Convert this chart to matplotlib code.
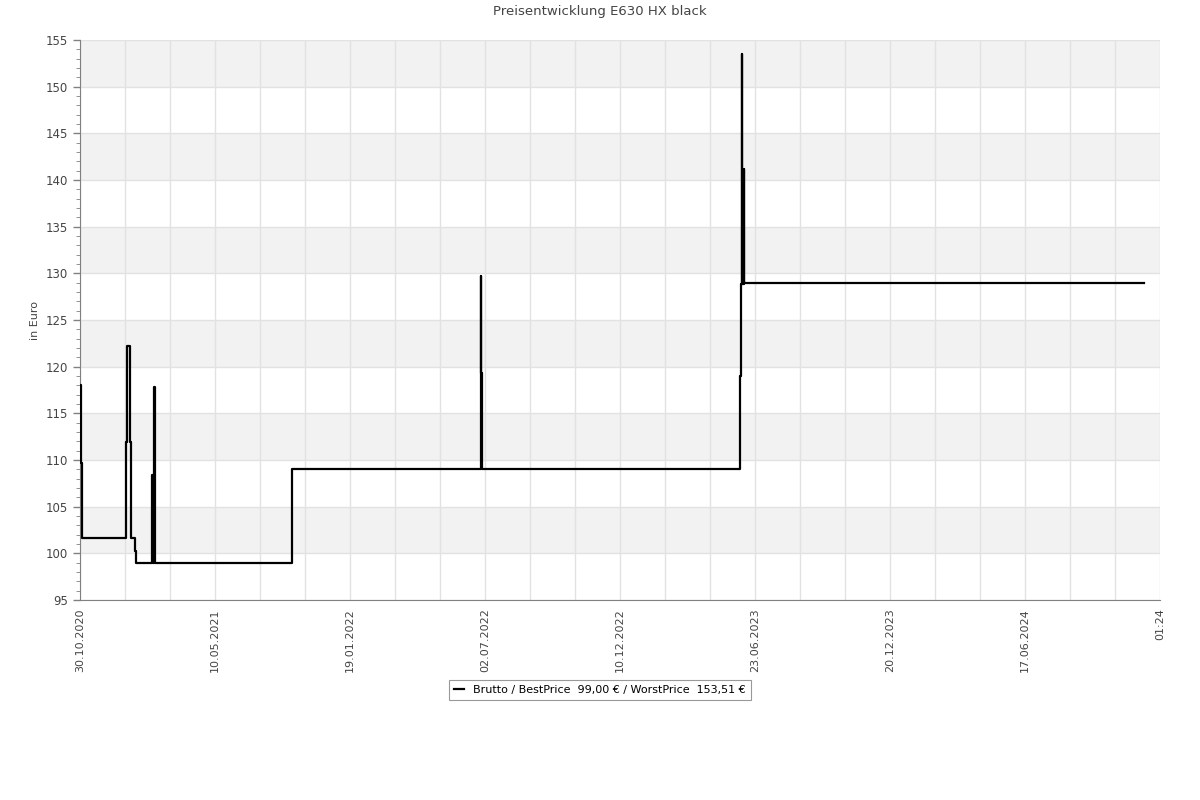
import numpy as np
import matplotlib
matplotlib.use("Agg")
import matplotlib.pyplot as plt
from matplotlib.ticker import MultipleLocator

# x in units of one labelled tick interval (axis labels are not evenly spaced in time)
tick_labels = ["30.10.2020", "10.05.2021", "19.01.2022", "02.07.2022", "10.12.2022",
               "23.06.2023", "20.12.2023", "17.06.2024", "01:24"]

pos = [0.000, 0.007, 0.015, 0.341, 0.346, 0.370, 0.378, 0.405, 0.415,
       0.537, 0.543, 0.547, 0.552, 1.570,
       2.968, 2.973, 2.979,
       4.889, 4.895, 4.900, 4.907, 4.915, 4.922, 7.881]
price = [118.0, 109.7, 101.59, 111.9, 122.2, 111.9, 101.59, 100.3, 99.0,
         108.4, 99.0, 117.8, 99.0, 109.0,
         129.7, 119.3, 109.0,
         119.0, 128.9, 153.51, 128.9, 141.2, 129.0, 129.0]

fig = plt.figure(figsize=(12, 8), dpi=100)
ax = fig.add_axes([80 / 1200, 200 / 800, 1080 / 1200, 560 / 800])

# alternating bands
for lo in range(100, 155, 10):
    ax.axhspan(lo, lo + 5, color="#f2f2f2", zorder=0, lw=0)

line, = ax.step(pos, price, where="post", color="black", lw=1.6, zorder=3)

ax.set_xlim(0, 8)
ax.set_ylim(95, 155)
ax.set_xticks(range(len(tick_labels)))
ax.set_xticklabels(tick_labels, rotation=90, fontsize=8, color="#444444")
ax.xaxis.set_minor_locator(MultipleLocator(1 / 3))
ax.yaxis.set_major_locator(MultipleLocator(5))
ax.yaxis.set_minor_locator(MultipleLocator(1))
ax.tick_params(axis="y", labelsize=8.5, labelcolor="#444444", color="#808080", length=5, width=1)
ax.tick_params(axis="y", which="minor", color="#808080", length=3)
ax.tick_params(axis="x", which="both", length=0, pad=6)

ax.grid(True, which="major", color="#e2e2e2", lw=1, zorder=1)
ax.grid(True, which="minor", axis="x", color="#e2e2e2", lw=1, zorder=1)
ax.set_axisbelow(True)

for side in ("top", "right"):
    ax.spines[side].set_visible(False)
for side in ("left", "bottom"):
    ax.spines[side].set_color("#808080")

ax.set_ylabel("in Euro", fontsize=8, color="#444444")
ax.yaxis.set_label_coords(-40 / 1080, 0.5)

fig.text(0.5, 1 - 12 / 800, "Preisentwicklung E630 HX black", ha="center", va="center",
         fontsize=9.5, color="#444444")

leg = fig.legend([line], ["Brutto / BestPrice  99,00 € / WorstPrice  153,51 €"],
                 loc="upper center", bbox_to_anchor=(0.5, 1 - 680 / 800),
                 fontsize=8, frameon=True, fancybox=False, handlelength=0.9,
                 borderpad=0.45, handletextpad=0.8, borderaxespad=0)
leg.get_frame().set_edgecolor("#808080")
leg.get_frame().set_linewidth(0.8)

fig.savefig("out.png", dpi=100)
